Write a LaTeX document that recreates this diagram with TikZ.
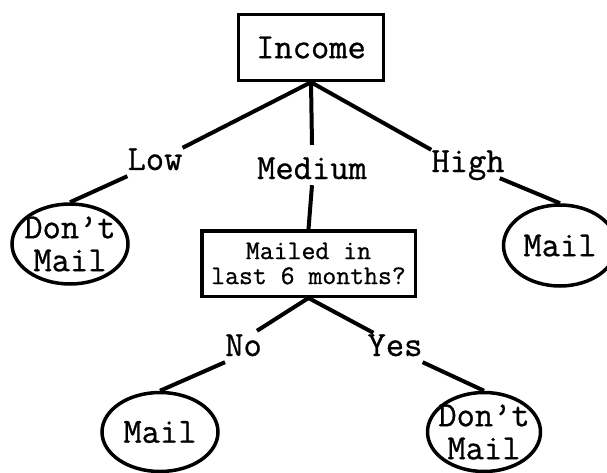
\documentclass[tikz,border=0pt]{standalone}
\usepackage{fontspec}
\usetikzlibrary{shapes.geometric}
\newfontfamily\cour[FakeBold=0.8]{Latin Modern Mono}
\newcommand\bigcour{\cour\fontsize{35.5}{33}\selectfont}
\newcommand\smallcour{\cour\fontsize{27}{25}\selectfont}
\tikzset{
  sqbox/.style={draw, rectangle, line width=3.5pt, inner sep=0pt},
  leaf/.style={draw, ellipse, line width=3.5pt, inner sep=0pt},
  lbl/.style={font=\bigcour, inner sep=0pt, text height=22pt, text depth=6pt},
  conn/.style={line width=4pt},
  leaftext/.style={font=\bigcour, align=center, inner sep=0pt}
}
\begin{document}
\begin{tikzpicture}[x=1pt,y=-1pt]
\useasboundingbox (0,0) rectangle (607,473);
% decision boxes
\node[sqbox, minimum width=145pt, minimum height=66pt, font=\bigcour] (inc) at (311,47.5) {Income};
\node[sqbox, minimum width=213.5pt, minimum height=65.5pt, font=\smallcour, align=center] (mailed) at (308.5,263.5) {Mailed in\\last 6 months?};
% branch labels
\node[lbl] (low) at (155,162) {Low};
\node[lbl] (med) at (312,171) {Medium};
\node[lbl] (high) at (468,164) {High};
\node[lbl] (no) at (243.5,348) {No};
\node[lbl] (yes) at (395,348) {Yes};
% leaves
\node[leaf, minimum width=116pt, minimum height=80pt,
  label={[leaftext]center:Don’t\\Mail}] (dmA) at (70,244) {};
\node[leaf, minimum width=113pt, minimum height=81pt,
  label={[leaftext]center:Mail}] (mailA) at (560,245.5) {};
\node[leaf, minimum width=116pt, minimum height=79pt,
  label={[leaftext]center:Mail}] (mailB) at (160,432) {};
\node[leaf, minimum width=113pt, minimum height=79pt,
  label={[leaftext]center:Don’t\\Mail}] (dmB) at (484,432) {};
% connectors
\draw[conn] (inc.south) -- (low.north east);
\draw[conn] (inc.south) -- ([yshift=12pt]med.north);
\draw[conn] (inc.south) -- (high.north west);
\draw[conn] (low.south west) -- (dmA.north);
\draw[conn] (med.south) -- (mailed.north);
\draw[conn] ([xshift=-5pt]high.south east) -- (mailA.north);
\draw[conn] (mailed.south) -- ([xshift=-5pt,yshift=3pt]no.north east);
\draw[conn] (mailed.south) -- ([xshift=6pt,yshift=1pt]yes.north west);
\draw[conn] (no.south west) -- (mailB.north);
\draw[conn] (yes.south east) -- (dmB.north);
\end{tikzpicture}
\end{document}
